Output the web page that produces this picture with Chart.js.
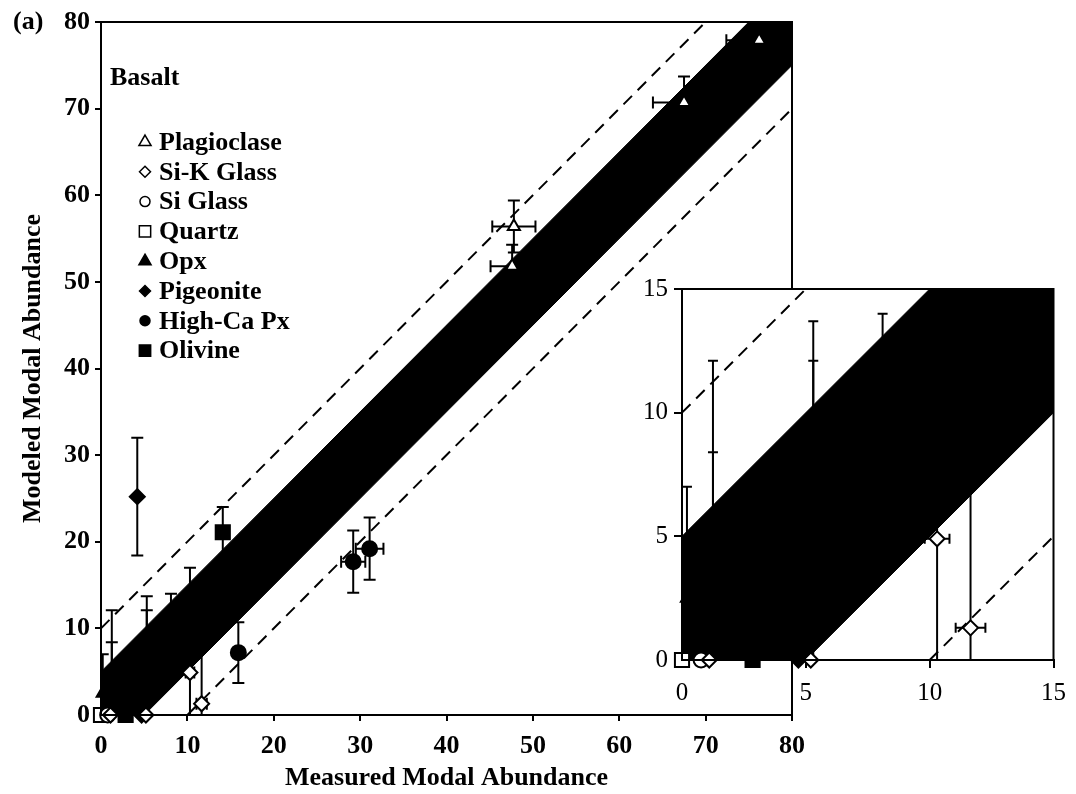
<!DOCTYPE html>
<html>
<head>
<meta charset="utf-8">
<script src="https://cdn.jsdelivr.net/npm/chart.js@4/dist/chart.umd.min.js"></script>
<style>
    body { margin: 0; background: #fff; }
    #quadro { position: relative; width: 1076px; height: 794px; }
    #grafico { position: absolute; left: 0; top: 0; }
    #detalhe { position: absolute; left: 620px; top: 268px; }
</style>
</head>
<body>
<div id="quadro">
    <canvas id="grafico" width="1076" height="794"></canvas>
    <canvas id="detalhe" width="456" height="452"></canvas>
</div>
<script>
const minerais = ["Plagioclase", "Si-K Glass", "Si Glass", "Quartz", "Opx", "Pigeonite", "High-Ca Px", "Olivine"];
const simbolos = ['triangle', 'rectRot', 'circle', 'rect', 'triangle', 'rectRot', 'circle', 'rect'];
const cheios = [false, false, false, false, true, true, true, true];

// medido (x), modelado (y) e barras de erro
const plagMedido = [47.8, 47.6, 67.5, 76.2];
const plagModelado = [56.4, 51.8, 70.7, 77.9];
const plagErroX = [2.5, 2.5, 3.6, 3.8];
const plagErroY = [3.0, 2.5, 3.0, 2.0];

const sikMedido = [10.3, 11.65, 1.1, 5.2];
const sikModelado = [4.9, 1.3, 0, 0];
const sikErroX = [0.5, 0.6, 0, 0];
const sikErroY = [12.1, 9.0, 0, 0];

const siMedido = [0.77];
const siModelado = [0];
const siErroX = [0];
const siErroY = [0];

const quartzoMedido = [0];
const quartzoModelado = [0];
const quartzoErroX = [0];
const quartzoErroY = [0];

const opxMedido = [0.2, 1.25, 5.3];
const opxModelado = [2.5, 5.0, 7.0];
const opxErroX = [0, 0, 0];
const opxErroY = [4.5, 7.1, 5.1];

const pigMedido = [4.2, 8.1, 4.7];
const pigModelado = [25.2, 9.5, 0];
const pigErroX = [0, 0, 0];
const pigErroY = [6.8, 4.5, 0];

const hcpMedido = [15.9, 29.2, 31.1, 1.25, 5.3];
const hcpModelado = [7.2, 17.7, 19.2, 3.0, 6.0];
const hcpErroX = [0, 1.4, 1.6, 0, 0];
const hcpErroY = [3.5, 3.6, 3.6, 5.4, 7.7];

const olivMedido = [14.1, 2.85];
const olivModelado = [21.1, 0];
const olivErroX = [0, 0];
const olivErroY = [2.9, 0];

const medido = [plagMedido, sikMedido, siMedido, quartzoMedido, opxMedido, pigMedido, hcpMedido, olivMedido];
const modelado = [plagModelado, sikModelado, siModelado, quartzoModelado, opxModelado, pigModelado, hcpModelado, olivModelado];
const errosX = [plagErroX, sikErroX, siErroX, quartzoErroX, opxErroX, pigErroX, hcpErroX, olivErroX];
const errosY = [plagErroY, sikErroY, siErroY, quartzoErroY, opxErroY, pigErroY, hcpErroY, olivErroY];

const faixa = 5;     // faixa preta: y = x +/- 5
const limite = 10;   // linhas tracejadas: y = x +/- 10
const ticksPrincipal = [0, 10, 20, 30, 40, 50, 60, 70, 80];
const ticksDetalhe = [0, 5, 10, 15];

const raios = [7, 7.5, 7.5, 10, 7, 7.5, 7.5, 10];

function conjuntos(M) {
    const pontos = minerais.map((nome, k) => ({
        type: 'scatter',
        label: nome,
        data: medido[k].map((v, i) => ({ x: v, y: modelado[k][i] })),
        erroX: errosX[k],
        erroY: errosY[k],
        pointStyle: simbolos[k],
        pointRadius: raios[k],
        pointBackgroundColor: cheios[k] ? '#000' : '#fff',
        pointBorderColor: '#000',
        pointBorderWidth: 2,
        clip: 10
    }));
    const tracejado = { type: 'line', borderColor: '#000', borderWidth: 2, borderDash: [12, 8], pointRadius: 0, fill: false };
    return pontos.concat([
        { ...tracejado, data: [{ x: 0, y: limite }, { x: M - limite, y: M }] },
        { ...tracejado, data: [{ x: limite, y: 0 }, { x: M, y: M - limite }] },
        { type: 'line', data: [{ x: 0, y: faixa }, { x: M - faixa, y: M }, { x: M, y: M }],
          borderColor: '#000', borderWidth: 1, backgroundColor: '#000', pointRadius: 0, fill: '+1' },
        { type: 'line', data: [{ x: 0, y: 0 }, { x: faixa, y: 0 }, { x: M, y: M - faixa }],
          borderColor: '#000', borderWidth: 1, pointRadius: 0, fill: false }
    ]);
}

const barrasDeErro = {
    id: 'barrasDeErro',
    beforeDatasetsDraw(chart, args, opts) {
        const { ctx, chartArea: a, scales: { x, y } } = chart;
        const c = opts.cap || 5;
        ctx.save();
        ctx.beginPath();
        ctx.rect(a.left, a.top, a.right - a.left, a.bottom - a.top);
        ctx.clip();
        ctx.strokeStyle = '#000';
        ctx.lineWidth = 2;
        chart.data.datasets.forEach(ds => {
            if (!ds.erroY) return;
            ds.data.forEach((p, i) => {
                const px = x.getPixelForValue(p.x), py = y.getPixelForValue(p.y);
                const ex = ds.erroX[i], ey = ds.erroY[i];
                ctx.beginPath();
                if (ey) {
                    const t = y.getPixelForValue(p.y + ey), b = y.getPixelForValue(p.y - ey);
                    ctx.moveTo(px, t); ctx.lineTo(px, b);
                    ctx.moveTo(px - c, t); ctx.lineTo(px + c, t);
                    ctx.moveTo(px - c, b); ctx.lineTo(px + c, b);
                }
                if (ex) {
                    const l = x.getPixelForValue(p.x - ex), r = x.getPixelForValue(p.x + ex);
                    ctx.moveTo(l, py); ctx.lineTo(r, py);
                    ctx.moveTo(l, py - c); ctx.lineTo(l, py + c);
                    ctx.moveTo(r, py - c); ctx.lineTo(r, py + c);
                }
                ctx.stroke();
            });
        });
        ctx.restore();
    }
};

const moldura = {
    id: 'moldura',
    beforeDraw(chart, args, opts) {
        if (!opts.fundo) return;
        const a = chart.chartArea;
        chart.ctx.save();
        chart.ctx.fillStyle = '#fff';
        chart.ctx.fillRect(a.left, a.top, a.right - a.left, a.bottom - a.top);
        chart.ctx.restore();
    },
    afterDraw(chart) {
        const a = chart.chartArea, ctx = chart.ctx;
        ctx.save();
        ctx.strokeStyle = '#000';
        ctx.lineWidth = 2;
        ctx.strokeRect(a.left, a.top, a.right - a.left, a.bottom - a.top);
        ctx.restore();
    }
};

const legenda = {
    id: 'legenda',
    afterDraw(chart) {
        const ctx = chart.ctx;
        ctx.save();
        ctx.fillStyle = '#000';
        ctx.textBaseline = 'middle';
        ctx.textAlign = 'left';
        ctx.font = 'bold 26px "Liberation Serif"';
        ctx.fillText('(a)', 13, 22);
        ctx.font = 'bold 26px "Liberation Serif"';
        ctx.fillText('Basalt', 110, 78);
        const tam = [7, 5.5, 5, 8, 7, 5.5, 5, 8];
        minerais.forEach((nome, k) => {
            const yy = 142 + k * 29.8;
            ctx.fillStyle = cheios[k] ? '#000' : '#fff';
            ctx.strokeStyle = '#000';
            ctx.lineWidth = 1.5;
            Chart.helpers.drawPoint(ctx, { pointStyle: simbolos[k], radius: tam[k], borderWidth: 1.5, rotation: 0 }, 145, yy);
            ctx.fillStyle = '#000';
            ctx.fillText(nome, 159, yy + 1);
        });
        ctx.restore();
    }
};

const serif = 'Liberation Serif';

function eixo(max, marcas, fonte, extra) {
    return Object.assign({
        type: 'linear', min: 0, max: max,
        afterBuildTicks: s => { s.ticks = marcas.map(v => ({ value: v })); },
        ticks: { color: '#000', font: fonte, padding: 5 },
        grid: { drawOnChartArea: false, tickLength: 6, color: '#000', lineWidth: 2 },
        border: { color: '#000', width: 2 }
    }, extra);
}

new Chart(document.getElementById('grafico'), {
    type: 'scatter',
    data: { datasets: conjuntos(80) },
    options: {
        responsive: false,
        animation: false,
        events: [],
        layout: { padding: { left: 0, top: 22, right: 284, bottom: 0 } },
        plugins: { legend: { display: false }, tooltip: { enabled: false }, barrasDeErro: { cap: 6 }, moldura: { fundo: false } },
        scales: {
            x: eixo(80, ticksPrincipal, { family: serif, size: 26, weight: 'bold' }, {
                afterFit: s => { s.height = 79; },
                title: { display: true, text: 'Measured Modal Abundance', color: '#000',
                         font: { family: serif, size: 26, weight: 'bold' }, padding: { top: 0, bottom: 0 } }
            }),
            y: eixo(80, ticksPrincipal, { family: serif, size: 26, weight: 'bold' }, {
                afterFit: s => { s.width = 101; },
                title: { display: true, text: 'Modeled Modal Abundance', color: '#000',
                         font: { family: serif, size: 26, weight: 'bold' }, padding: { top: 18, bottom: 0 } }
            })
        }
    },
    plugins: [moldura, barrasDeErro, legenda]
}).options.scales.x.ticks.padding = 10;
</script>
<script>
const detalhe = new Chart(document.getElementById('detalhe'), {
    type: 'scatter',
    data: { datasets: conjuntos(15) },
    options: {
        responsive: false,
        animation: false,
        events: [],
        layout: { padding: { left: 0, top: 19, right: 21, bottom: 0 } },
        plugins: { legend: { display: false }, tooltip: { enabled: false }, barrasDeErro: { cap: 5 }, moldura: { fundo: true } },
        scales: {
            x: eixo(15, ticksDetalhe, { family: serif, size: 25 }, {
                afterFit: s => { s.height = 60; }
            }),
            y: eixo(15, ticksDetalhe, { family: serif, size: 25 }, {
                afterFit: s => { s.width = 62; }
            })
        }
    },
    plugins: [moldura, barrasDeErro]
});
detalhe.options.scales.x.grid.tickLength = 8;
detalhe.options.scales.y.grid.tickLength = 8;
detalhe.options.scales.x.ticks.padding = 10;
detalhe.options.scales.y.ticks.padding = 6;
detalhe.update();
Chart.getChart('grafico').update();
</script>
</body>
</html>
